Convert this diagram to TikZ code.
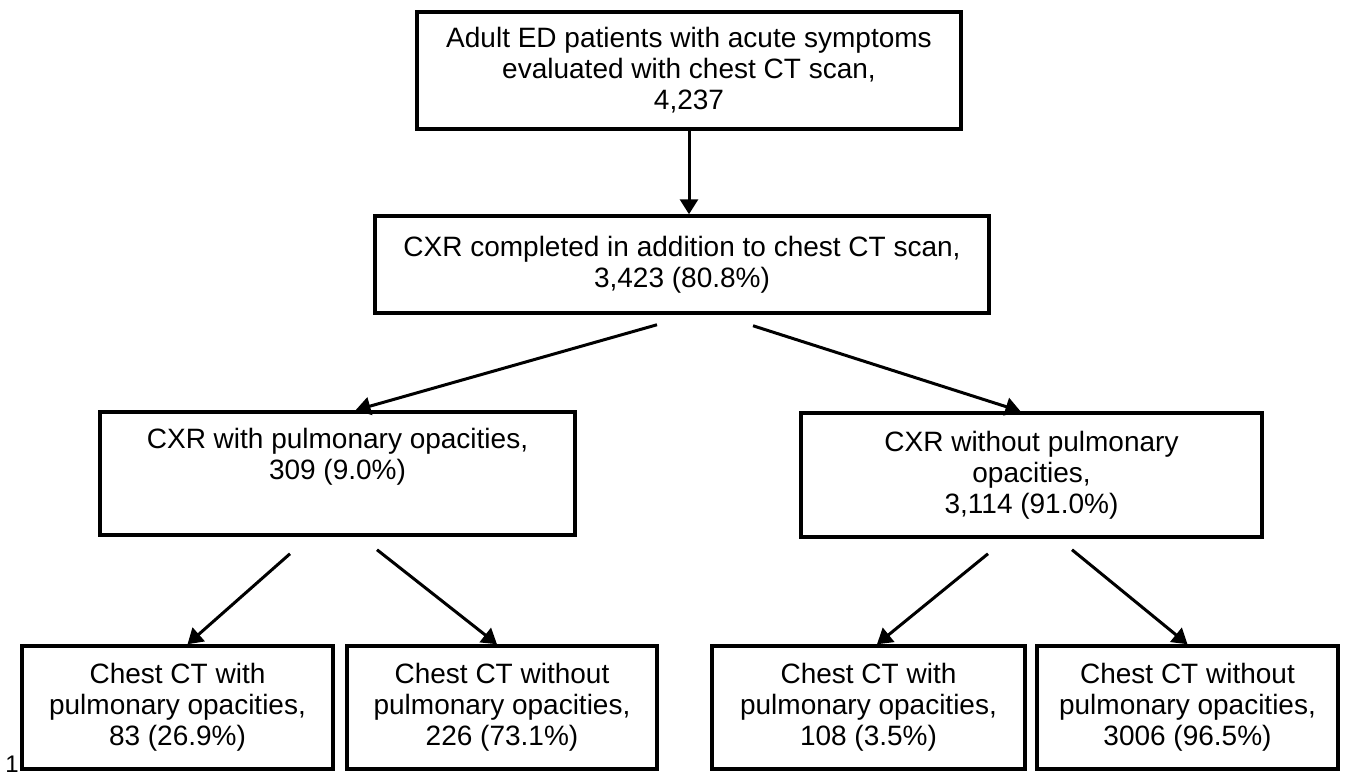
\documentclass[tikz,border=0pt]{standalone}
\usepackage{fontspec}
\setmainfont{Liberation Sans}
\usetikzlibrary{arrows.meta,calc}
\tikzset{
  box/.style={draw, line width=3.5pt, align=center, inner sep=0pt, font=\fontsize{28}{31}\selectfont},
  arr/.style={line width=3pt, -{Triangle[length=15pt,width=18pt]}}
}
\begin{document}
\begin{tikzpicture}[x=1pt, y=-1pt]
	\useasboundingbox (0,0) rectangle (1352,777);
	\node[box, minimum width=544pt, minimum height=117pt] (adult) at (689,70.5) {Adult ED patients with acute symptoms\\evaluated with chest CT scan,\\4,237};
	\node[box, minimum width=614pt, minimum height=97pt] (cxr) at (682,264.5) {CXR completed in addition to chest CT scan,\\3,423 (80.8\%)};
	\node[box, minimum width=475pt, minimum height=123pt] (withop) at (337.5,473.5) {CXR with pulmonary opacities,\\309 (9.0\%)\\\strut};
	\node[box, minimum width=461pt, minimum height=124pt] (withoutop) at (1031.5,475) {CXR without pulmonary\\opacities,\\3,114 (91.0\%)};
	\node[box, minimum width=311pt, minimum height=123pt] (ctA) at (177.5,707.5) {Chest CT with\\pulmonary opacities,\\83 (26.9\%)};
	\node[box, minimum width=310pt, minimum height=123pt] (ctB) at (502,707.5) {Chest CT without\\pulmonary opacities,\\226 (73.1\%)};
	\node[box, minimum width=313pt, minimum height=123pt] (ctC) at (868.5,707.5) {Chest CT with\\pulmonary opacities,\\108 (3.5\%)};
	\node[box, minimum width=301pt, minimum height=123pt] (ctD) at (1187.5,707.5) {Chest CT without\\pulmonary opacities,\\3006 (96.5\%)};
	\node[font=\fontsize{24}{26}\selectfont] (pnum) at (12,764) {1};
	\draw[arr] (adult.south) -- (adult.south |- cxr.north);
	\draw[arr] ($(cxr.south)+(-25,10)$) -- ($(withop.north)+(18,0)$);
	\draw[arr] ($(cxr.south)+(71,11)$) -- ($(withoutop.north)+(-11,0)$);
	\draw[arr] ($(withop.south)+(-47.5,17)$) -- ($(ctA.north)+(10,0)$);
	\draw[arr] ($(withop.south)+(39.5,13)$) -- ($(ctB.north)+(-5,0)$);
	\draw[arr] ($(withoutop.south)+(-43.5,15)$) -- ($(ctC.north)+(8.5,0)$);
	\draw[arr] ($(withoutop.south)+(40.5,11)$) -- (ctD.north);
\end{tikzpicture}
\end{document}
